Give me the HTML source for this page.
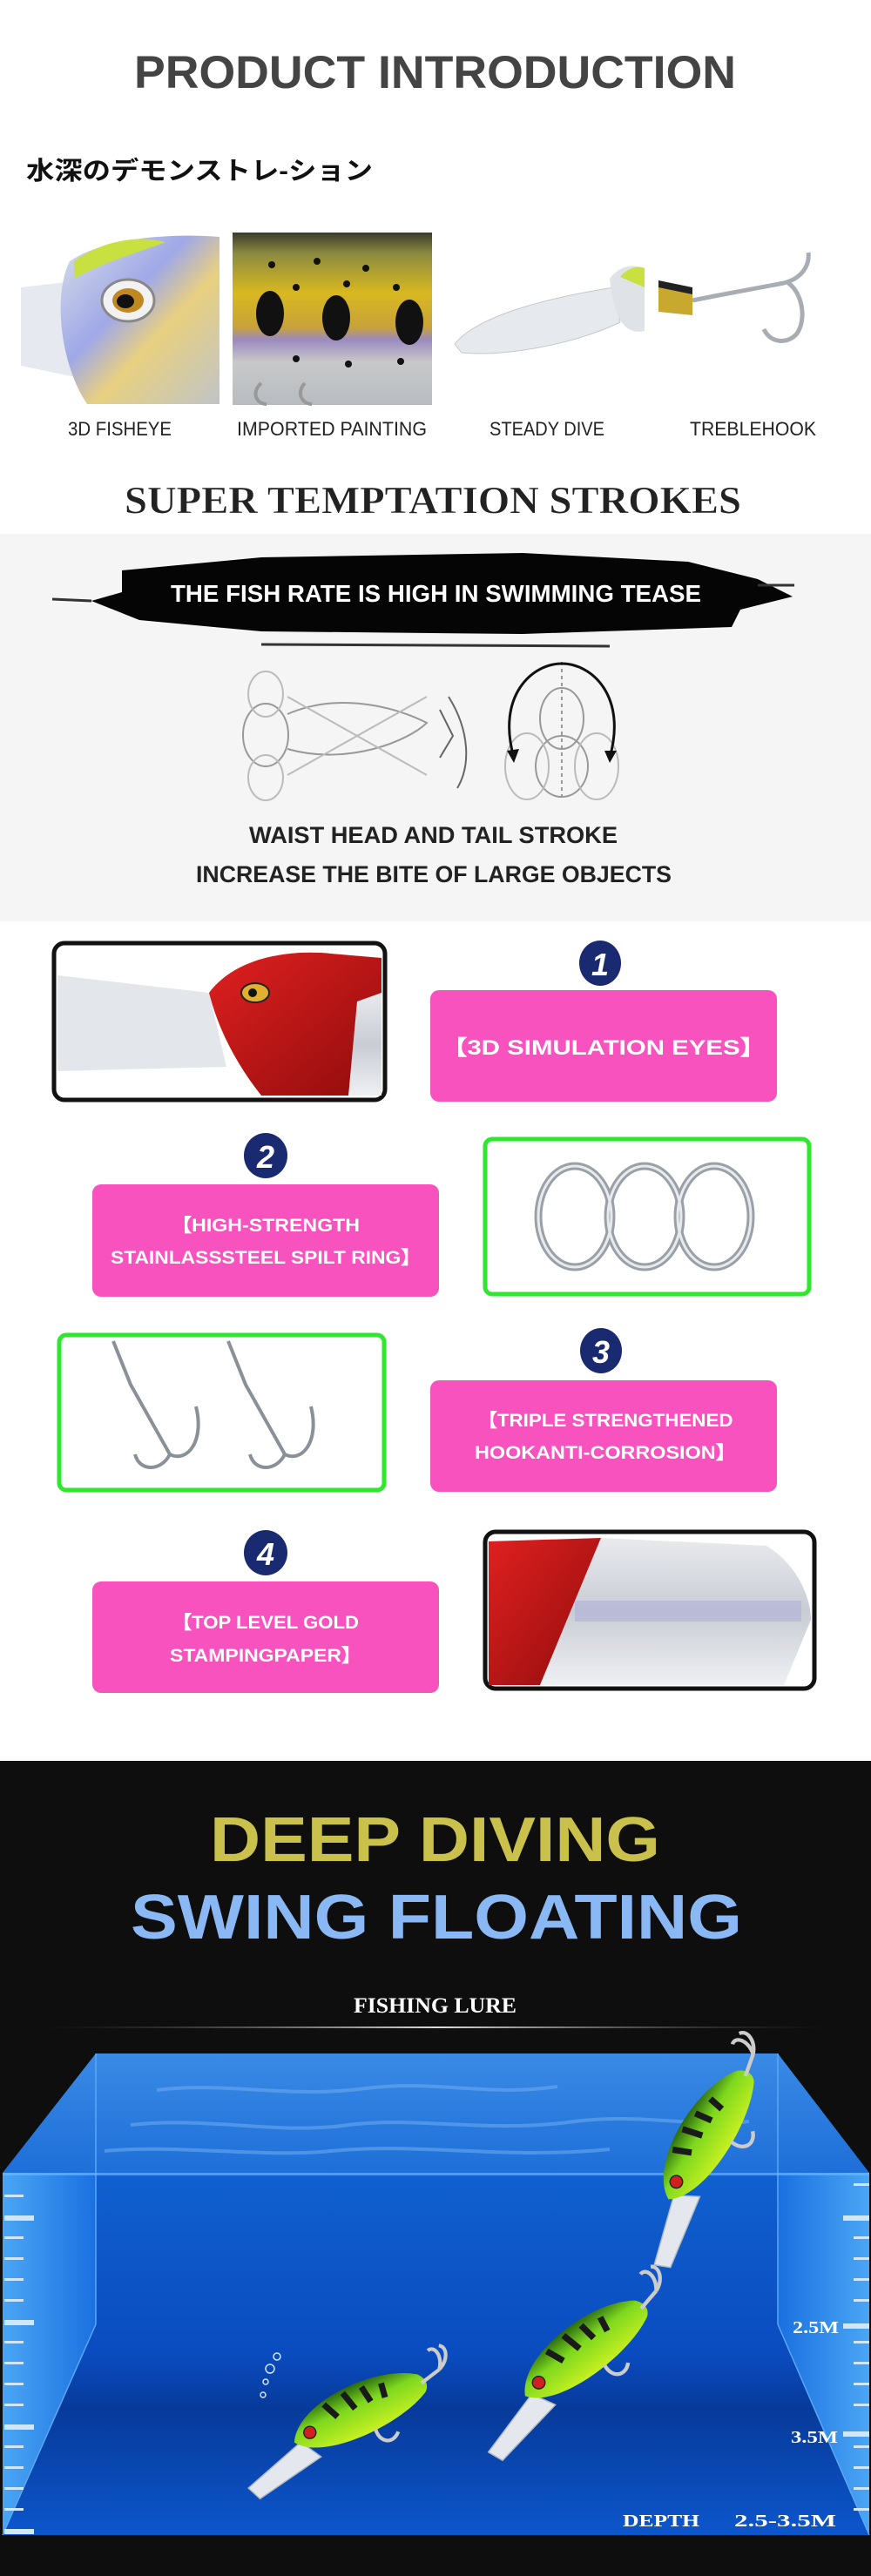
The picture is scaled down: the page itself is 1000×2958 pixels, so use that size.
<!DOCTYPE html>
<html><head><meta charset="utf-8"><style>
html,body{margin:0;padding:0;background:#fff;}
svg{display:block;}
</style></head><body>
<svg width="1000" height="2958" viewBox="0 0 1000 2958" xmlns="http://www.w3.org/2000/svg">
<defs>
<linearGradient id="silver" x1="0" y1="0" x2="0" y2="1"><stop offset="0" stop-color="#e8eaee"/><stop offset="0.5" stop-color="#c9ccd4"/><stop offset="1" stop-color="#eef0f3"/></linearGradient>
<linearGradient id="gold" x1="0" y1="0" x2="0" y2="1"><stop offset="0" stop-color="#3a3a2a"/><stop offset="0.12" stop-color="#8a8a40"/><stop offset="0.35" stop-color="#d8b820"/><stop offset="0.55" stop-color="#c9a23a"/><stop offset="0.62" stop-color="#9a8ac0"/><stop offset="0.75" stop-color="#c8c8c8"/><stop offset="1" stop-color="#b8bcc0"/></linearGradient>
<linearGradient id="holo" x1="0" y1="0" x2="1" y2="1"><stop offset="0" stop-color="#d8e0e8"/><stop offset="0.4" stop-color="#a0a8e8"/><stop offset="0.6" stop-color="#e8d080"/><stop offset="1" stop-color="#c0c4c8"/></linearGradient>
<linearGradient id="red" x1="0" y1="0" x2="1" y2="1"><stop offset="0" stop-color="#e02020"/><stop offset="1" stop-color="#900c0c"/></linearGradient>
<linearGradient id="water" x1="0" y1="0" x2="0" y2="1"><stop offset="0" stop-color="#1060d0"/><stop offset="0.5" stop-color="#0a4cc0"/><stop offset="0.65" stop-color="#073a9a"/><stop offset="1" stop-color="#0c56cc"/></linearGradient>
<linearGradient id="surf" x1="0" y1="0" x2="0" y2="1"><stop offset="0" stop-color="#3a8ae6"/><stop offset="1" stop-color="#1e6fd8"/></linearGradient>
<linearGradient id="side" x1="0" y1="0" x2="1" y2="0"><stop offset="0" stop-color="#4aa6f4"/><stop offset="1" stop-color="#1a70e0"/></linearGradient>
<linearGradient id="sideR" x1="1" y1="0" x2="0" y2="0"><stop offset="0" stop-color="#4aa6f4"/><stop offset="1" stop-color="#1a70e0"/></linearGradient>
<linearGradient id="green" x1="0" y1="0" x2="0" y2="1"><stop offset="0" stop-color="#2a6a10"/><stop offset="0.4" stop-color="#7ed81e"/><stop offset="1" stop-color="#c8f020"/></linearGradient>
<linearGradient id="hl" x1="0" y1="0" x2="1" y2="0"><stop offset="0" stop-color="#444" stop-opacity="0"/><stop offset="0.5" stop-color="#ddd"/><stop offset="1" stop-color="#444" stop-opacity="0"/></linearGradient>
<g id="lure">
  <path d="M-95,18 L-40,2 L-30,20 L-90,30 Z" fill="#e4e8ee" stroke="#b0b8c0"/>
  <path d="M-45,0 C-30,-28 40,-30 70,-8 C75,-2 75,4 70,8 C40,24 -30,24 -45,0 Z" fill="url(#green)"/>
  <path d="M-10,-18 l6,14 M8,-20 l4,16 M24,-18 l2,14 M40,-14 l-2,12" stroke="#1a1a1a" stroke-width="5" fill="none"/>
  <circle cx="-30" cy="-2" r="5" fill="#d02020" stroke="#222"/>
  <path d="M70,0 l18,-4 m0,0 c8,-10 4,-20 -2,-18 M88,-4 c10,-4 14,-14 8,-18" stroke="#ccc" stroke-width="3" fill="none"/>
  <path d="M20,18 c-2,12 8,18 16,10" stroke="#ccc" stroke-width="3" fill="none"/>
</g>
</defs>

<rect width="1000" height="2958" fill="#fff"/>

<text x="154" y="101" font-family="Liberation Sans, sans-serif" font-weight="bold" font-size="53" fill="#444" textLength="691" lengthAdjust="spacingAndGlyphs">PRODUCT INTRODUCTION</text>
<text x="30" y="206" font-family="Liberation Sans, Noto Sans CJK JP, sans-serif" font-weight="bold" font-size="29" fill="#111" textLength="398" lengthAdjust="spacingAndGlyphs">水深のデモンストレ-ション</text>

<g>
<path d="M24,330 L110,320 L120,440 L24,420 Z" fill="#e6eaf0"/>
<path d="M80,300 C120,272 200,268 252,272 L252,464 L100,464 C70,420 60,340 80,300 Z" fill="url(#holo)"/>
<path d="M85,300 C120,275 160,270 190,278 C160,290 120,300 85,320 Z" fill="#c8e040"/>
<ellipse cx="147" cy="345" rx="30" ry="24" fill="#f2f2f2" stroke="#888" stroke-width="3"/>
<ellipse cx="147" cy="345" rx="18" ry="14" fill="#c08820"/>
<ellipse cx="144" cy="346" rx="10" ry="8" fill="#111"/>
</g>
<g>
<rect x="267" y="267" width="229" height="198" fill="url(#gold)"/>
<ellipse cx="310" cy="360" rx="16" ry="26" fill="#111"/>
<ellipse cx="386" cy="365" rx="16" ry="26" fill="#111"/>
<ellipse cx="470" cy="370" rx="16" ry="26" fill="#111"/>
<g fill="#111"><circle cx="312" cy="304" r="4"/><circle cx="364" cy="300" r="4"/><circle cx="420" cy="308" r="4"/><circle cx="340" cy="330" r="4"/><circle cx="398" cy="326" r="4"/><circle cx="455" cy="330" r="4"/><circle cx="340" cy="412" r="4"/><circle cx="400" cy="418" r="4"/><circle cx="460" cy="415" r="4"/></g>
<path d="M300,440 c-12,10 -6,24 6,24 M350,440 c-10,10 -4,24 8,24" stroke="#999" stroke-width="4" fill="none"/>
</g>
<path d="M522,395 C550,360 640,340 705,330 L712,370 C660,395 580,410 530,405 Z" fill="#e6e9ee" stroke="#c4c8ce"/>
<path d="M700,320 C715,300 735,305 740,310 L740,380 C720,385 705,370 700,320 Z" fill="#dfe3e8"/>
<path d="M712,318 c8,-10 20,-14 28,-10 L740,330 Z" fill="#c8e040"/>
<path d="M756,325 L795,332 L795,362 L756,358 Z" fill="#c9a830"/>
<path d="M756,322 L795,330 L795,338 L756,330 Z" fill="#222"/>
<path d="M795,345 L820,340 L900,325 M900,325 c20,-5 30,-20 28,-35 M905,325 c15,10 22,40 10,58 c-10,12 -30,12 -38,-5" stroke="#a8adb4" stroke-width="5" fill="none"/>
<g font-family="Liberation Sans, sans-serif" font-size="22" fill="#222">
<text x="78" y="500" textLength="119" lengthAdjust="spacingAndGlyphs">3D FISHEYE</text>
<text x="272" y="500" textLength="218" lengthAdjust="spacingAndGlyphs">IMPORTED PAINTING</text>
<text x="562" y="500" textLength="132" lengthAdjust="spacingAndGlyphs">STEADY DIVE</text>
<text x="792" y="500" textLength="145" lengthAdjust="spacingAndGlyphs">TREBLEHOOK</text>
</g>
<text x="143" y="589" font-family="Liberation Serif, serif" font-weight="bold" font-size="44" fill="#222" stroke="#fff" stroke-width="0.5" textLength="708" lengthAdjust="spacingAndGlyphs">SUPER TEMPTATION STROKES</text>

<rect x="0" y="613" width="1000" height="445" fill="#f5f5f5"/>
<path d="M140,655 L300,640 L600,635 L790,645 L870,665 L910,685 L850,700 L840,720 L600,728 L300,725 L160,712 L105,690 L140,680 Z" fill="#050505"/>
<path d="M105,690 L60,688 M870,672 L912,672 M300,740 L700,742" stroke="#333" stroke-width="3"/>
<text x="196" y="691" font-family="Liberation Sans, sans-serif" font-weight="bold" font-size="28" fill="#fff" textLength="609" lengthAdjust="spacingAndGlyphs">THE FISH RATE IS HIGH IN SWIMMING TEASE</text>

<g fill="none" stroke="#999" stroke-width="2">
<ellipse cx="305" cy="844" rx="26" ry="36"/>
<ellipse cx="305" cy="797" rx="20" ry="26" stroke="#bbb"/>
<ellipse cx="305" cy="893" rx="20" ry="26" stroke="#bbb"/>
<path d="M330,820 C400,790 470,820 490,830 C470,850 400,880 330,860" />
<path d="M330,800 L490,890 M330,890 L490,800" stroke="#bbb"/>
<path d="M505,815 L520,845 L505,870" stroke="#666"/>
<path d="M515,800 C540,840 540,880 525,905" stroke="#666"/>
<ellipse cx="645" cy="825" rx="25" ry="35"/>
<ellipse cx="645" cy="880" rx="30" ry="35"/>
<ellipse cx="605" cy="880" rx="25" ry="38" stroke="#bbb"/>
<ellipse cx="685" cy="880" rx="25" ry="38" stroke="#bbb"/>
<path d="M645,760 L645,920" stroke-dasharray="4 4"/>
</g>
<path d="M590,870 C570,800 610,762 645,762 C680,762 720,800 700,870" fill="none" stroke="#111" stroke-width="3"/>
<path d="M582,862 l8,14 l6,-16 Z M694,862 l6,14 l8,-14 Z" fill="#111"/>
<g font-family="Liberation Sans, sans-serif" font-weight="bold" font-size="27" fill="#222">
<text x="286" y="968" textLength="423" lengthAdjust="spacingAndGlyphs">WAIST HEAD AND TAIL STROKE</text>
<text x="225" y="1013" textLength="546" lengthAdjust="spacingAndGlyphs">INCREASE THE BITE OF LARGE OBJECTS</text>
</g>

<rect x="62" y="1083" width="380" height="180" rx="12" fill="#fff" stroke="#111" stroke-width="5"/>
<path d="M66,1120 L240,1140 L260,1225 L66,1230 Z" fill="#e3e6ea"/>
<path d="M240,1140 C270,1100 330,1090 380,1095 L438,1100 L438,1258 L300,1258 C270,1220 250,1180 240,1140 Z" fill="url(#red)"/>
<path d="M410,1150 L438,1140 L438,1258 L400,1258 Z" fill="url(#silver)"/>
<ellipse cx="293" cy="1140" rx="16" ry="11" fill="#e0b030" stroke="#222" stroke-width="2"/>
<circle cx="290" cy="1140" r="5" fill="#111"/>
<ellipse cx="689" cy="1106" rx="24" ry="26" fill="#1a2a70"/>
<text x="689" y="1120" font-family="Liberation Sans, sans-serif" font-weight="bold" font-style="italic" font-size="36" fill="#fff" text-anchor="middle">1</text>
<rect x="494" y="1137" width="398" height="128" rx="10" fill="#f752be"/>
<text x="693" y="1211" font-family="Liberation Sans, sans-serif" font-weight="bold" font-size="24" fill="#fff" text-anchor="middle" textLength="372" lengthAdjust="spacingAndGlyphs">【3D SIMULATION EYES】</text>
<ellipse cx="305" cy="1327" rx="25" ry="26" fill="#1a2a70"/>
<text x="305" y="1341" font-family="Liberation Sans, sans-serif" font-weight="bold" font-style="italic" font-size="36" fill="#fff" text-anchor="middle">2</text>
<rect x="106" y="1360" width="398" height="129" rx="10" fill="#f752be"/>
<g font-family="Liberation Sans, sans-serif" font-weight="bold" font-size="21" fill="#fff" text-anchor="middle">
<text x="305" y="1414" textLength="216" lengthAdjust="spacingAndGlyphs">【HIGH-STRENGTH</text>
<text x="305" y="1451" textLength="356" lengthAdjust="spacingAndGlyphs">STAINLASSSTEEL SPILT RING】</text>
</g>
<rect x="557" y="1308" width="372" height="178" rx="8" fill="#fff" stroke="#2ee82e" stroke-width="5"/>
<g fill="none" stroke="#9aa0a8" stroke-width="9">
<ellipse cx="660" cy="1397" rx="42" ry="58"/>
<ellipse cx="740" cy="1397" rx="42" ry="58"/>
<ellipse cx="820" cy="1397" rx="42" ry="58"/>
</g>
<g fill="none" stroke="#e8eaee" stroke-width="3">
<ellipse cx="660" cy="1397" rx="42" ry="58"/>
<ellipse cx="740" cy="1397" rx="42" ry="58"/>
<ellipse cx="820" cy="1397" rx="42" ry="58"/>
</g>
<rect x="68" y="1533" width="373" height="178" rx="8" fill="#fff" stroke="#2ee82e" stroke-width="5"/>
<g fill="none" stroke="#8a9098" stroke-width="4">
<path d="M130,1540 L150,1590 L195,1670 M195,1670 c-10,20 -35,20 -40,0 M195,1670 c20,10 40,-15 30,-55"/>
<path d="M262,1540 L282,1590 L327,1670 M327,1670 c-10,20 -35,20 -40,0 M327,1670 c20,10 40,-15 30,-55"/>
</g>
<ellipse cx="690" cy="1551" rx="24" ry="26" fill="#1a2a70"/>
<text x="690" y="1565" font-family="Liberation Sans, sans-serif" font-weight="bold" font-style="italic" font-size="36" fill="#fff" text-anchor="middle">3</text>
<rect x="494" y="1585" width="398" height="128" rx="10" fill="#f752be"/>
<g font-family="Liberation Sans, sans-serif" font-weight="bold" font-size="21" fill="#fff" text-anchor="middle">
<text x="695" y="1638" textLength="293" lengthAdjust="spacingAndGlyphs">【TRIPLE STRENGTHENED</text>
<text x="695" y="1675" textLength="300" lengthAdjust="spacingAndGlyphs">HOOKANTI-CORROSION】</text>
</g>
<ellipse cx="305" cy="1783" rx="25" ry="26" fill="#1a2a70"/>
<text x="305" y="1797" font-family="Liberation Sans, sans-serif" font-weight="bold" font-style="italic" font-size="36" fill="#fff" text-anchor="middle">4</text>
<rect x="106" y="1816" width="398" height="128" rx="10" fill="#f752be"/>
<g font-family="Liberation Sans, sans-serif" font-weight="bold" font-size="21" fill="#fff" text-anchor="middle">
<text x="305" y="1870" textLength="214" lengthAdjust="spacingAndGlyphs">【TOP LEVEL GOLD</text>
<text x="305" y="1908" textLength="220" lengthAdjust="spacingAndGlyphs">STAMPINGPAPER】</text>
</g>
<rect x="557" y="1759" width="378" height="180" rx="12" fill="#fff" stroke="#111" stroke-width="5"/>
<path d="M561,1770 L690,1766 L620,1935 L561,1935 Z" fill="url(#red)"/>
<path d="M690,1766 L880,1775 C920,1800 931,1840 931,1860 L900,1935 L620,1935 Z" fill="url(#silver)"/>
<path d="M660,1850 L920,1850" stroke="#b0b0d8" stroke-width="24" opacity="0.6"/>

<rect x="0" y="2022" width="1000" height="936" fill="#0e0e0e"/>
<text x="241" y="2137" font-family="Liberation Sans, sans-serif" font-weight="bold" font-size="72" fill="#c9c14b" textLength="517" lengthAdjust="spacingAndGlyphs">DEEP DIVING</text>
<text x="150" y="2226" font-family="Liberation Sans, sans-serif" font-weight="bold" font-size="72" fill="#8ab8f5" textLength="702" lengthAdjust="spacingAndGlyphs">SWING FLOATING</text>
<text x="406" y="2311" font-family="Liberation Serif, serif" font-weight="bold" font-size="25" fill="#fff" textLength="187" lengthAdjust="spacingAndGlyphs">FISHING LURE</text>
<rect x="46" y="2327" width="911" height="2" fill="url(#hl)"/>

<rect x="3" y="2495" width="995" height="416" fill="url(#water)"/>
<path d="M110,2358 L893,2358 L998,2495 L3,2495 Z" fill="url(#surf)"/>
<g stroke="#6aaaf0" stroke-width="4" fill="none" opacity="0.6">
<path d="M180,2400 C260,2390 330,2410 420,2398 C500,2388 560,2408 640,2396"/>
<path d="M150,2440 C240,2430 320,2452 400,2440 C480,2430 560,2450 660,2436 C740,2426 800,2444 860,2436"/>
<path d="M120,2470 C200,2462 300,2478 380,2470 C480,2460 580,2480 700,2468"/>
</g>
<path d="M3,2495 L110,2495 L110,2669 L3,2911 Z" fill="url(#side)"/>
<path d="M998,2495 L893,2495 L893,2669 L998,2911 Z" fill="url(#sideR)"/>
<path d="M110,2358 L110,2669 M893,2358 L893,2669 M110,2669 L3,2911 M893,2669 L998,2911" stroke="#5aa8f5" stroke-width="1.5" fill="none"/>
<rect x="3" y="2495" width="995" height="3" fill="#6ab8ff" opacity="0.7"/>
<g fill="#cfe6ff">
<rect x="5" y="2520" width="22" height="3"/><rect x="5" y="2544" width="34" height="6"/><rect x="5" y="2568" width="22" height="3"/><rect x="5" y="2592" width="22" height="3"/><rect x="5" y="2616" width="22" height="3"/><rect x="5" y="2640" width="22" height="3"/><rect x="5" y="2664" width="34" height="6"/><rect x="5" y="2688" width="22" height="3"/><rect x="5" y="2712" width="22" height="3"/><rect x="5" y="2736" width="22" height="3"/><rect x="5" y="2760" width="22" height="3"/><rect x="5" y="2784" width="34" height="6"/><rect x="5" y="2808" width="22" height="3"/><rect x="5" y="2832" width="22" height="3"/><rect x="5" y="2856" width="22" height="3"/><rect x="5" y="2880" width="22" height="3"/><rect x="5" y="2904" width="34" height="6"/>
<rect x="980" y="2507" width="18" height="3"/><rect x="968" y="2544" width="30" height="6"/><rect x="980" y="2568" width="18" height="3"/><rect x="980" y="2592" width="18" height="3"/><rect x="980" y="2616" width="18" height="3"/><rect x="980" y="2640" width="18" height="3"/><rect x="968" y="2668" width="30" height="6"/><rect x="980" y="2688" width="18" height="3"/><rect x="980" y="2712" width="18" height="3"/><rect x="980" y="2736" width="18" height="3"/><rect x="980" y="2760" width="18" height="3"/><rect x="968" y="2792" width="30" height="6"/><rect x="980" y="2808" width="18" height="3"/><rect x="980" y="2832" width="18" height="3"/><rect x="980" y="2856" width="18" height="3"/><rect x="980" y="2880" width="18" height="3"/>
</g>
<g font-family="Liberation Serif, serif" font-weight="bold" fill="#fff" font-size="20">
<text x="910" y="2679" textLength="53" lengthAdjust="spacingAndGlyphs">2.5M</text>
<text x="908" y="2805" textLength="54" lengthAdjust="spacingAndGlyphs">3.5M</text>
<text x="715" y="2901" textLength="88" lengthAdjust="spacingAndGlyphs">DEPTH</text>
<text x="843" y="2901" textLength="117" lengthAdjust="spacingAndGlyphs">2.5-3.5M</text>
</g>
<use href="#lure" transform="translate(802,2470) rotate(-58) scale(1.45)"/>
<use href="#lure" transform="translate(655,2712) rotate(-37) scale(1.45)"/>
<use href="#lure" transform="translate(395,2778) rotate(-25) scale(1.4)"/>
<g fill="none" stroke="#cfe6ff" stroke-width="1.5"><circle cx="310" cy="2720" r="5"/><circle cx="318" cy="2706" r="4"/><circle cx="305" cy="2735" r="3"/><circle cx="302" cy="2750" r="3"/></g>
</svg>
</body></html>
